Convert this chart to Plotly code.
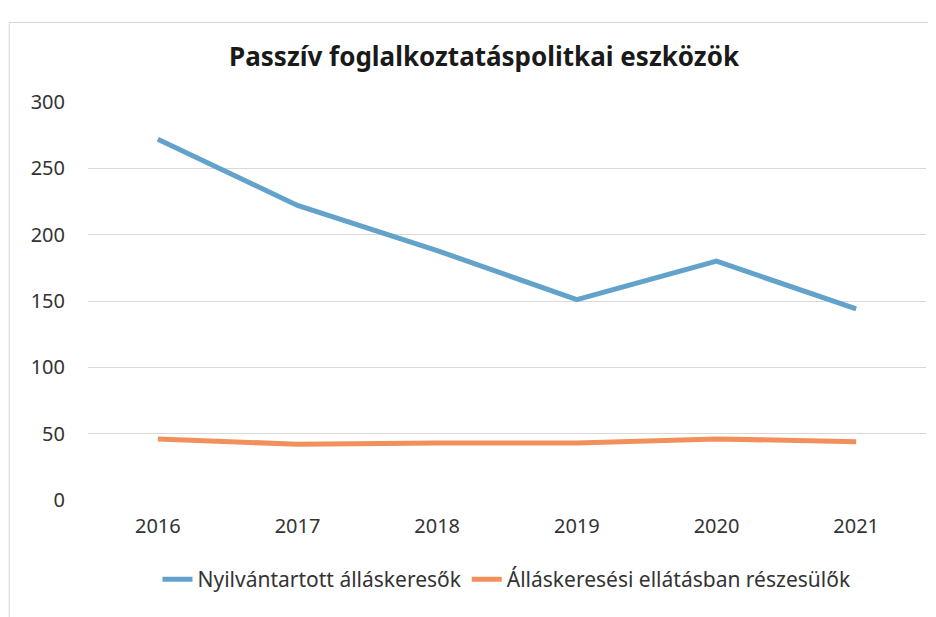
import plotly.graph_objects as go

years = ["2016", "2017", "2018", "2019", "2020", "2021"]
nyilvantartott = [272, 222, 188, 151, 180, 144]
ellatasban = [46, 42, 43, 43, 46, 44]
series_names = ["Nyilvántartott álláskeresők", "Álláskeresési ellátásban részesülők"]
y_ticks = [0, 50, 100, 150, 200, 250, 300]

font_family = "Noto Sans, sans-serif"

fig = go.Figure()
fig.add_trace(go.Scatter(x=years, y=nyilvantartott, mode="lines", name=series_names[0],
                         line=dict(color="#62a2cb", width=5)))
fig.add_trace(go.Scatter(x=years, y=ellatasban, mode="lines", name=series_names[1],
                         line=dict(color="#f2905c", width=5)))

fig.update_layout(
    width=928, height=609,
    margin=dict(l=80, r=10, t=94, b=117),
    paper_bgcolor="white", plot_bgcolor="white",
    title=dict(text="<b>Passzív foglalkoztatáspolitkai eszközök</b>",
               x=0.513, xanchor="center", y=0.92, yanchor="middle",
               font=dict(family=font_family, size=26, color="#1a1a1a")),
    font=dict(family=font_family, size=20, color="#333333"),
    xaxis=dict(range=[-0.5, 5.5], showgrid=False, showline=False, zeroline=False, ticks="",
               ticklabelstandoff=12, tickfont=dict(size=20, color="#333333")),
    yaxis=dict(range=[0, 300], tickvals=y_ticks, showgrid=True, gridcolor="#d9d9d9",
               gridwidth=1, zeroline=False, showline=False, ticks="",
               ticklabelstandoff=22, tickfont=dict(size=20, color="#333333")),
    legend=dict(orientation="h", x=0.5, xanchor="center", y=-0.2, yanchor="middle",
                font=dict(size=21, color="#333333"), tracegroupgap=0),
    showlegend=True,
    shapes=[dict(type="rect", xref="paper", yref="paper", x0=-0.094, x1=1.02, y0=-0.31, y1=1.2,
                 line=dict(color="#d6d6d6", width=1), layer="below")],
)

fig.write_html("out.html")
